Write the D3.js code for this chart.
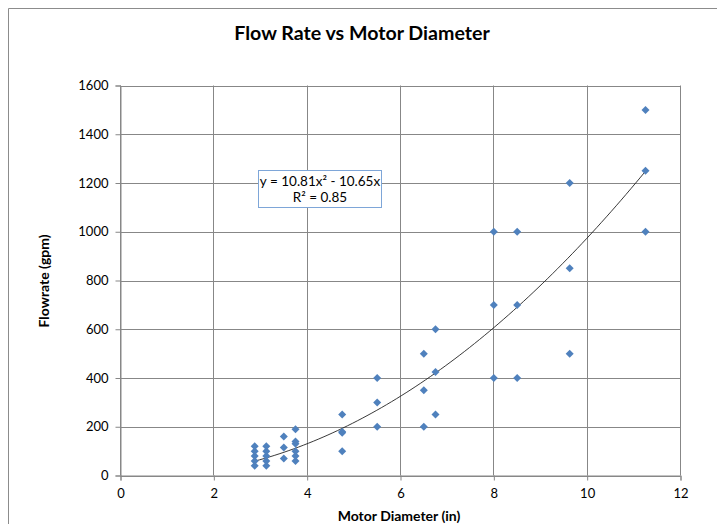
<!DOCTYPE html>
<html><head><meta charset="utf-8">
<script src="https://cdn.jsdelivr.net/npm/d3@7"></script>
<style>body{margin:0;background:#fff}svg{display:block}text{font-family:Lato,"Open Sans",sans-serif}</style>
</head><body><svg id="c" width="717" height="524"></svg>
<script>
const diameters = [2.875,2.875,2.875,2.875,2.875,
  3.125,3.125,3.125,3.125,3.125,
  3.5,3.5,3.5,
  3.75,3.75,3.75,3.75,3.75,3.75,
  4.75,4.75,4.75,4.75,
  5.5,5.5,5.5,
  6.5,6.5,6.5,
  6.75,6.75,6.75,
  8,8,8,
  8.5,8.5,8.5,
  9.625,9.625,9.625,
  11.25,11.25,11.25];
const flowrates = [40,60,80,100,120,
  40,60,80,100,120,
  70,115,160,
  60,80,100,130,140,190,
  100,175,180,250,
  200,300,400,
  200,350,500,
  250,425,600,
  400,700,1000,
  400,700,1000,
  500,850,1200,
  1000,1250,1500];
const xTicks = [0,2,4,6,8,10,12];
const yTicks = [0,200,400,600,800,1000,1200,1400,1600];
const trendCoef = [10.81, -10.65]; // a*x^2 + b*x
const trendRange = [2.875, 11.25];
const eqLines = ["y = 10.81x\u00B2 - 10.65x", "R\u00B2 = 0.85"];

const svg = d3.select("#c");
const x = d3.scaleLinear().domain([0,12]).range([120.5,680.5]);
const y = d3.scaleLinear().domain([0,1600]).range([475.5,85.5]);
const grid = "#878787";

// outer chart border
svg.append("path").attr("d","M8.5,530V8.5H720").attr("fill","none").attr("stroke","#8c8c8c");

// gridlines
svg.append("g").selectAll("line").data(yTicks).join("line")
  .attr("x1",x(0)).attr("x2",x(12)).attr("y1",d=>Math.round(y(d))+0.5).attr("y2",d=>Math.round(y(d))+0.5)
  .attr("stroke",grid);
svg.append("g").selectAll("line").data(xTicks).join("line")
  .attr("y1",y(0)).attr("y2",y(1600)).attr("x1",d=>Math.round(x(d)-0.5)+0.5).attr("x2",d=>Math.round(x(d)-0.5)+0.5)
  .attr("stroke",grid);

// axes
const ya = svg.append("g").attr("transform",`translate(${x(0)},0)`)
  .call(d3.axisLeft(y).tickValues(yTicks).tickSize(5).tickPadding(7).tickFormat(d3.format("d")));
const xa = svg.append("g").attr("transform",`translate(0,${y(0)})`)
  .call(d3.axisBottom(x).tickValues(xTicks).tickSize(5).tickPadding(8).tickFormat(d3.format("d")));
[ya,xa].forEach(g=>{
  g.select(".domain").attr("stroke",grid);
  g.selectAll(".tick line").attr("stroke",grid);
  g.selectAll(".tick text").attr("font-size","13px").attr("fill","#000");
});

// trendline
const tx = d3.range(trendRange[0], trendRange[1]+0.0001, (trendRange[1]-trendRange[0])/80);
const line = d3.line().x(d=>x(d)).y(d=>y(trendCoef[0]*d*d + trendCoef[1]*d)).curve(d3.curveLinear);
svg.append("path").datum(tx).attr("d",line).attr("fill","none").attr("stroke","#222").attr("stroke-width",0.9);

// points
const pts = diameters.map((d,i)=>({x:d,y:flowrates[i]}));
svg.append("g").selectAll("path").data(pts).join("path")
  .attr("transform",d=>`translate(${x(d.x)},${y(d.y)})`)
  .attr("d","M0,-4L4,0L0,4L-4,0Z").attr("fill","#4f81bd");

// equation box
const eq = svg.append("g");
eq.append("rect").attr("x",258.5).attr("y",170.5).attr("width",123).attr("height",37)
  .attr("fill","#fff").attr("stroke","#7ea6d8");
eq.selectAll("text").data(eqLines).join("text")
  .attr("x",320).attr("y",(d,i)=>186+i*16).attr("text-anchor","middle")
  .attr("font-size","13.5px").attr("fill","#000").text(d=>d);

// titles
svg.append("text").attr("x",362).attr("y",40).attr("text-anchor","middle")
  .attr("font-size","19.6px").attr("font-weight","bold").text("Flow Rate vs Motor Diameter");
svg.append("text").attr("x",399).attr("y",521).attr("text-anchor","middle")
  .attr("font-size","14px").attr("font-weight","bold").text("Motor Diameter (in)");
svg.append("text").attr("transform","translate(49,281) rotate(-90)").attr("text-anchor","middle")
  .attr("font-size","14px").attr("font-weight","bold").text("Flowrate (gpm)");
</script></body></html>
